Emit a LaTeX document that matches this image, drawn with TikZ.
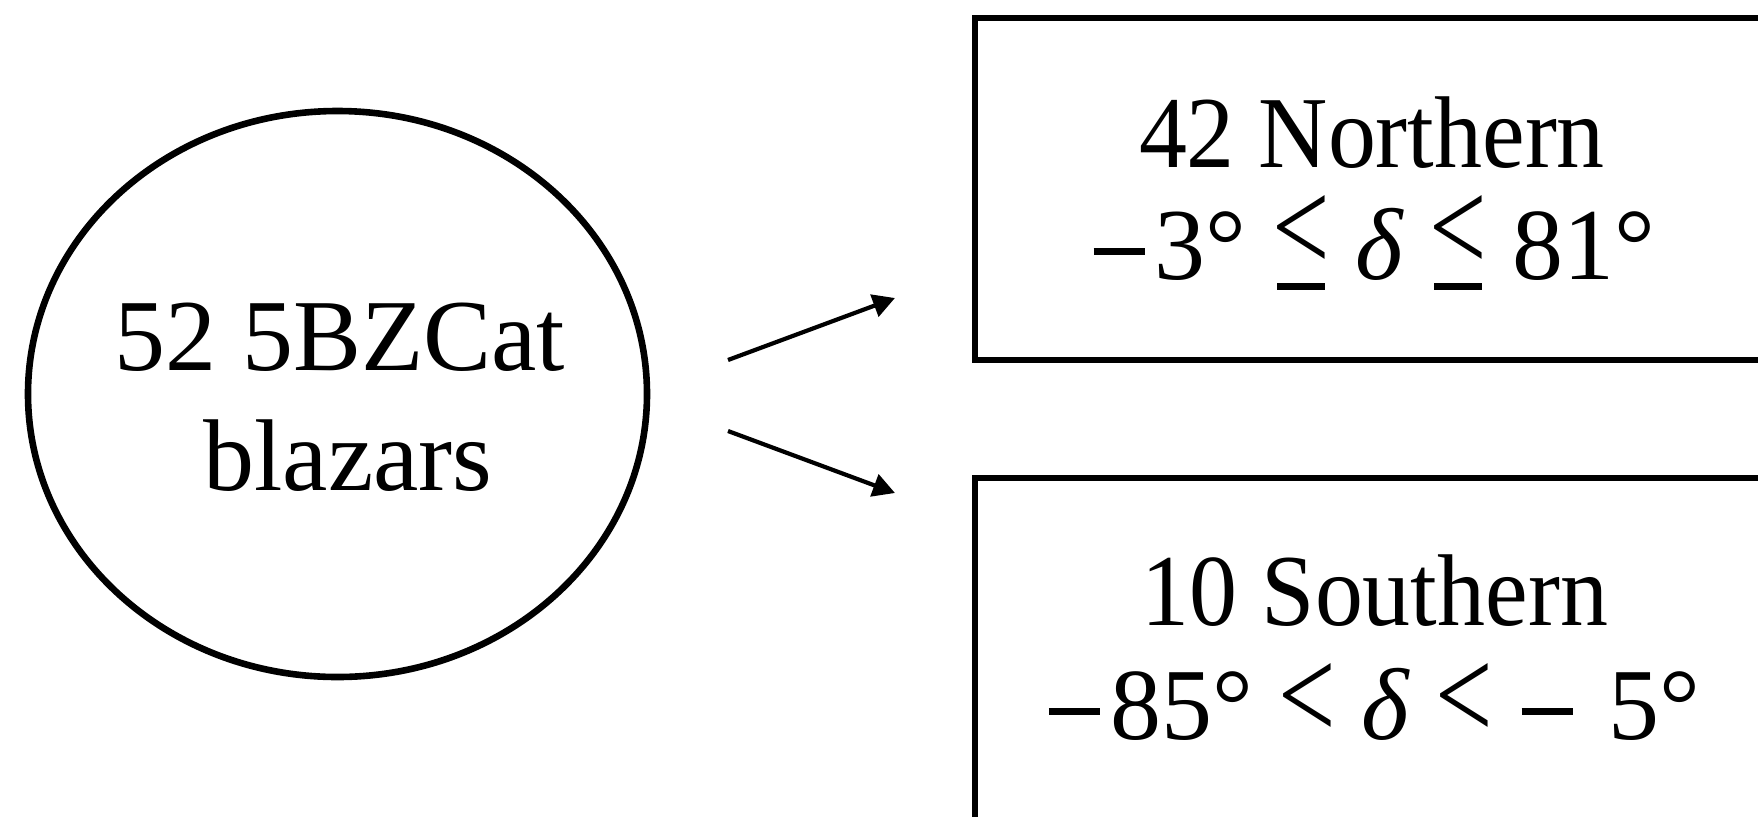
\documentclass[tikz,border=0pt]{standalone}
\usepackage{fontspec}
\setmainfont{Liberation Serif}
\newfontfamily\condfont[FakeStretch=0.94]{Liberation Serif}
\usetikzlibrary{arrows.meta,shapes.geometric}
\newcommand\mless{\scalebox{1.0}[1.3]{<}}
\newcommand\myleq{\ooalign{\raisebox{0.07em}{\mless}\cr\hidewidth\rule[-0.105em]{0.47em}{0.07em}\hidewidth\cr}}
\newcommand\mminus{\kern0.03em\rule[0.235em]{0.5em}{0.065em}\kern0.1em}
\begin{document}
\begin{tikzpicture}[x=0.5pt,y=-0.5pt,
  txt/.style={font=\fontsize{51}{60}\selectfont, inner sep=0pt, anchor=base, text height=0.72em, text depth=0.2em},
  cond/.style={txt, font=\fontsize{51}{60}\condfont},
  shapeline/.style={draw=black, line width=3.3pt, inner sep=0pt},
  conn/.style={line width=2.1pt, -{Triangle[length=11pt,width=11.5pt]}}]
\useasboundingbox (0,0) rectangle (1758,816);
\clip (0,0) rectangle (1758,816);
\fill[white] (0,0) rectangle (1758,816);
\node[ellipse, shapeline, minimum width=309.5pt, minimum height=283pt] (src) at (337.5,394) {};
\node[rectangle, shapeline, minimum width=400pt, minimum height=171pt] (north) at (1375,189) {};
\node[rectangle, shapeline, minimum width=400pt, minimum height=211pt] (south) at (1375,689) {};
\node[txt] (e1) at (340,370) {52 5BZCat};
\node[txt] (e2) at (348,490) {blazars};
\node[cond] (n1) at (1372,167) {42 Northern};
\node[txt, text height=0.7em, text depth=0.12em] (n2) at (1373,279) {\mminus3° \myleq{} \textit{δ} \myleq{} 81°};
\node[cond] (s1) at (1375,625) {10 Southern};
\node[txt, text height=0.7em, text depth=0.12em] (s2) at (1373,739) {\mminus85° \mless{} \textit{δ} \mless{} \mminus{} 5°};
\coordinate (a1s) at (728,360);
\coordinate (a1e) at (895,298);
\coordinate (a2s) at (728,431);
\coordinate (a2e) at (895,493);
\draw[conn] (a1s) -- (a1e);
\draw[conn] (a2s) -- (a2e);
\end{tikzpicture}
\end{document}
